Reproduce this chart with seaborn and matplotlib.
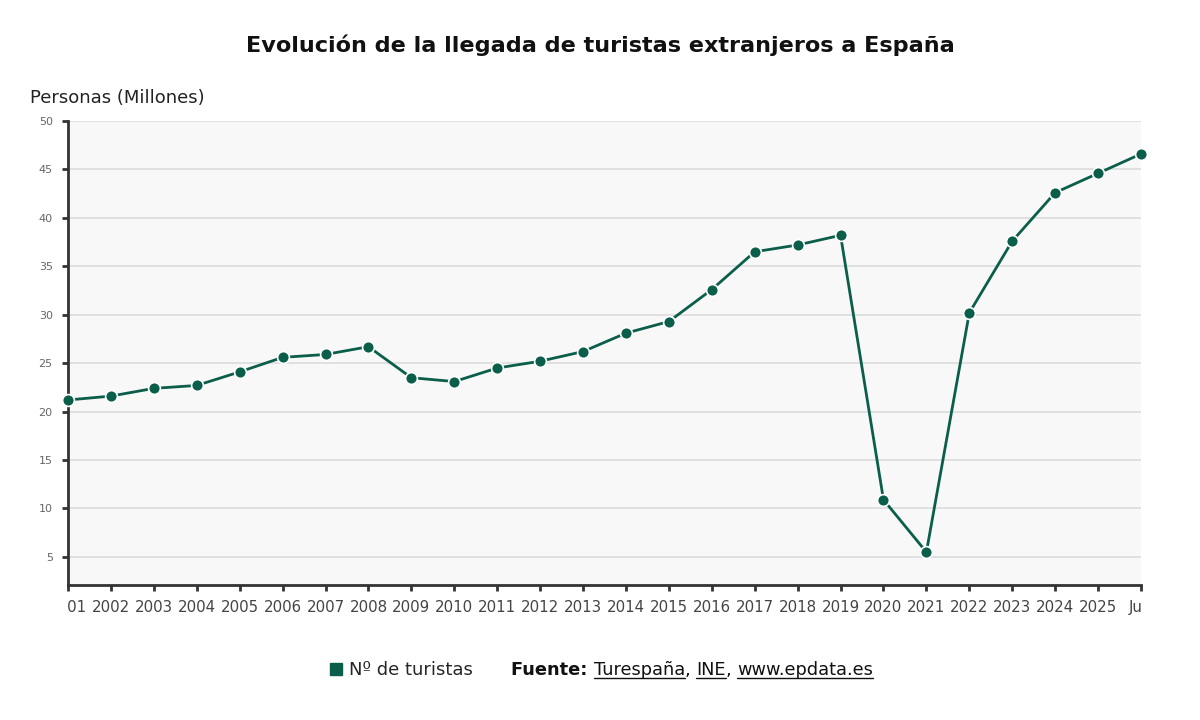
import numpy as np
import pandas as pd
import seaborn as sns
import matplotlib.pyplot as plt
from matplotlib.lines import Line2D
from matplotlib.transforms import Bbox, TransformedBbox, blended_transform_factory

years = ["2001", "2002", "2003", "2004", "2005", "2006", "2007", "2008", "2009",
         "2010", "2011", "2012", "2013", "2014", "2015", "2016", "2017", "2018",
         "2019", "2020", "2021", "2022", "2023", "2024", "2025", "Jun"]
turistas = [21.2, 21.6, 22.4, 22.7, 24.1, 25.6, 25.9, 26.7, 23.5, 23.1, 24.5, 25.2,
            26.2, 28.1, 29.3, 32.6, 36.5, 37.2, 38.2, 10.9, 5.5, 30.2, 37.6, 42.6,
            44.6, 46.6]
yticks = [5, 10, 15, 20, 25, 30, 35, 40, 45, 50]

green = "#0b5e4a"

sns.set_theme(style="whitegrid")
plt.rcParams['font.family'] = ['DejaVu Sans']

fig = plt.figure(figsize=(12, 7.2), dpi=100)
ax = fig.add_axes([68/1200, 1-585/720, (1141-68)/1200, (585-121)/720])

df = pd.DataFrame({"x": np.arange(len(years)), "y": turistas})
sns.lineplot(data=df, x="x", y="y", ax=ax, color=green, lw=2, marker="o",
             markersize=8.5, markeredgecolor="white", markeredgewidth=1.2,
             clip_on=False, zorder=5)

ax.set_facecolor("#f8f8f8")
ax.set_xlim(0, len(years)-1)
ax.set_ylim(2.1, 50)
ax.set_xlabel("")
ax.set_ylabel("")
ax.grid(axis="x", visible=False)
ax.grid(axis="y", color="#dcdcdc", lw=1.2)
for s in ["top", "right"]:
    ax.spines[s].set_visible(False)
for s in ["left", "bottom"]:
    ax.spines[s].set_visible(True)
    ax.spines[s].set_color("#333333")
    ax.spines[s].set_linewidth(2)

ax.set_yticks(yticks)
ax.set_yticklabels([str(v) for v in yticks])
ax.set_xticks(np.arange(len(years)))
ax.set_xticklabels(years)
ax.tick_params(axis="x", length=4, width=2, color="#333333", labelsize=10.8,
               labelcolor="#444444", pad=7, bottom=True)
ax.tick_params(axis="y", length=4, width=2, color="#333333", labelsize=8,
               labelcolor="#666666", pad=7, left=True)

clipbox = TransformedBbox(Bbox([[0, 0], [1, 1]]),
                          blended_transform_factory(ax.transAxes, fig.transFigure))
for lbl in ax.get_xticklabels():
    lbl.set_clip_box(clipbox)
    lbl.set_clip_on(True)

fig.text(0.5, 1-45/720, "Evolución de la llegada de turistas extranjeros a España",
         ha="center", va="center", fontsize=16.1, fontweight="bold", color="#111111")
fig.text(30/1200, 1-98/720, "Personas (Millones)", ha="left", va="center",
         fontsize=13, color="#222222")

# legend
fig.legend(handles=[Line2D([], [], marker="s", ls="", color=green, markersize=9)],
           labels=["Nº de turistas"], loc="center left",
           bbox_to_anchor=(309/1200, 1-670/720), frameon=False,
           fontsize=13, handletextpad=0.1, handlelength=1.2)

# source line
fig.canvas.draw()
renderer = fig.canvas.get_renderer()
x = 511
yc = 1-670/720
pieces = [("Fuente: ", True, False), ("Turespaña", False, True), (", ", False, False),
          ("INE", False, True), (", ", False, False), ("www.epdata.es", False, True)]
for txt, bold, underline in pieces:
    t = fig.text(x/1200, yc, txt, ha="left", va="center", fontsize=12.8,
                 fontweight="bold" if bold else "normal", color="#111111")
    bb = t.get_window_extent(renderer)
    if underline:
        ly = bb.y0 + 1
        fig.add_artist(Line2D([bb.x0/1200, bb.x1/1200], [ly/720, ly/720],
                              color="#111111", lw=1))
    x = bb.x1

fig.savefig("out.png", dpi=100)
